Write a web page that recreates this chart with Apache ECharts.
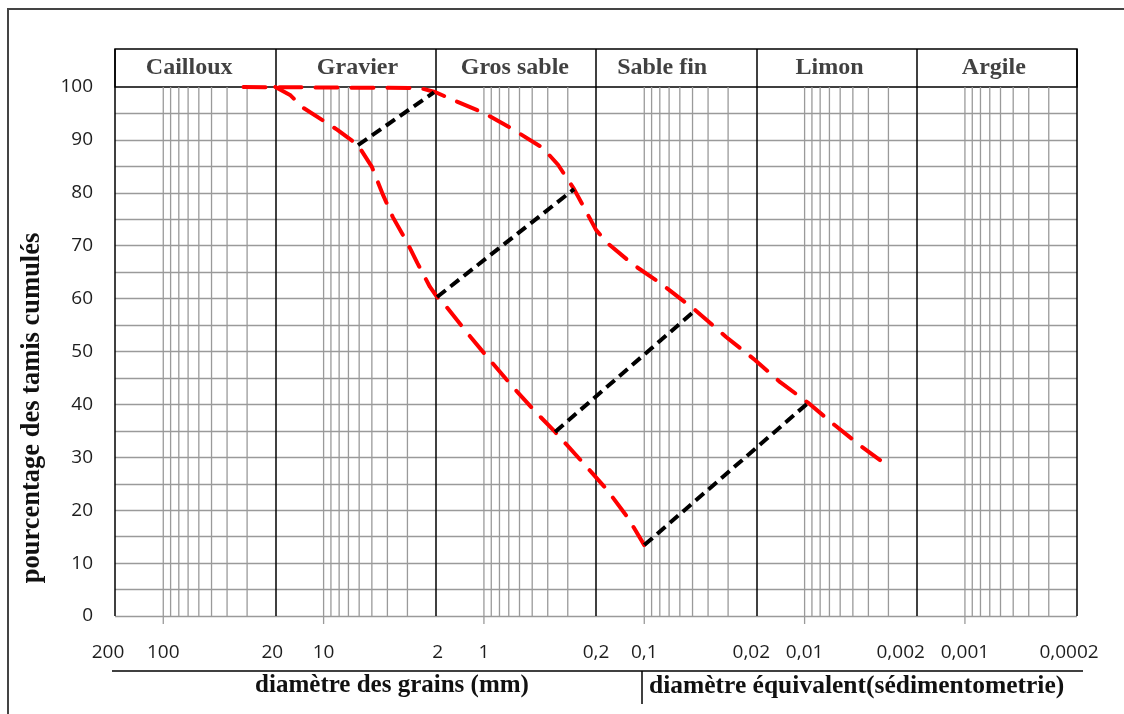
<!DOCTYPE html>
<html><head><meta charset="utf-8">
<script src="https://cdn.jsdelivr.net/npm/echarts@6/dist/echarts.min.js"></script>
<style>html,body{margin:0;padding:0;background:#fff}#c{width:1124px;height:714px}</style>
</head><body><div id="c"></div>
<script>
// ---------- data ----------
const zones = ['Cailloux', 'Gravier', 'Gros sable', 'Sable fin', 'Limon', 'Argile'];
const tickDiam = [200, 100, 20, 10, 2, 1, 0.2, 0.1, 0.02, 0.01, 0.002, 0.001, 0.0002];
const tickText = ['200', '100', '20', '10', '2', '1', '0,2', '0,1', '0,02', '0,01', '0,002', '0,001', '0,0002'];
const minorMultipliers = [1, 3, 4, 5, 6, 7, 8, 9];

const upperDiam = [31.6, 2.5, 2.0, 1.6, 1.0, 0.66, 0.43, 0.345, 0.274, 0.2, 0.17, 0.117, 0.08, 0.048, 0.031, 0.0204, 0.0142, 0.0095, 0.0065, 0.0044, 0.0029];
const upperPct  = [100, 99.8, 99, 97.7, 95.1, 92, 88.5, 85.3, 80.7, 73, 70.5, 66.4, 63, 57.8, 52.8, 48.4, 44.2, 40.3, 36.1, 32, 28];

const lowerDiam = [20, 16.2, 13.6, 8.2, 6.1, 5.0, 4.26, 3.7, 3.0, 2.6, 2.17, 1.96, 1.75, 1.27, 0.92, 0.66, 0.47, 0.36, 0.24, 0.17, 0.126, 0.1];
const lowerPct  = [100, 98.5, 96.2, 91.9, 89, 84.9, 79.6, 75.4, 70.5, 66.7, 62.2, 60.3, 58.8, 53.5, 48.4, 43.3, 38.4, 34.8, 28.9, 23.8, 18.5, 13.4];

const tieFromDiam = [6.1, 1.96, 0.36, 0.1];
const tieFromPct  = [89, 60.3, 34.8, 13.4];
const tieToDiam   = [2.05, 0.274, 0.048, 0.0095];
const tieToPct    = [99, 80.7, 57.8, 40.3];

const yTitle = 'pourcentage des tamis cumulés';
const xTitleLeft = 'diamètre des grains (mm)';
const xTitleRight = 'diamètre équivalent(sédimentometrie)';

// ---------- layout / style ----------
const DMAX = 200, DMIN = 0.0002;
const u = d => Math.log10(DMAX / d);
const labelShift = [-7, 0, -3, 0, 2, 0, 0, 0, -5, 0, -16, 0, -8];
const headerShift = [-6, 2, -1, -14, -7, -3];
const SANS = '"Open Sans", "Noto Sans", sans-serif';
const SERIF = '"Liberation Serif", "DejaVu Serif", serif';
const GRAY = '#9a9a9a';

const tickU = tickDiam.map(u);
const rich = {};
tickText.forEach((t, i) => {
  const s = labelShift[i];
  rich['s' + i] = {
    fontFamily: SANS, fontSize: 19, color: '#1e1e1e',
    padding: [0, s < 0 ? -2 * s : 0, 0, s > 0 ? 2 * s : 0]
  };
});
function xLabel(val) {
  let best = 0, bd = Infinity;
  tickU.forEach((t, i) => { const dd = Math.abs(t - val); if (dd < bd) { bd = dd; best = i; } });
  return '{s' + best + '|' + tickText[best] + '}';
}

// minor log grid lines: [u, hasTick]
const minorData = [];
for (let n = 2; n >= -4; n--) {
  minorMultipliers.forEach(m => {
    const d = m * Math.pow(10, n);
    if (d < DMAX * 0.999 && d > DMIN * 1.001) minorData.push([u(d), m === 1 ? 1 : 0]);
  });
}

const pairs = (ds, ps) => ds.map((d, i) => [u(d), ps[i]]);

const series = [
  {
    type: 'custom', xAxisIndex: 0, yAxisIndex: 0, silent: true, clip: false, z: 1,
    data: minorData,
    encode: { x: 0 },
    renderItem: function (params, api) {
      const x = api.value(0);
      const p0 = api.coord([x, 0]);
      const p1 = api.coord([x, 100]);
      const ext = api.value(1) ? 8 : 0;
      return {
        type: 'line',
        shape: { x1: p0[0], y1: p0[1] + ext, x2: p1[0], y2: p1[1] },
        style: { stroke: GRAY, lineWidth: 1.3 }
      };
    }
  },
  {
    type: 'line', name: 'upper', data: pairs(upperDiam, upperPct), symbol: 'none', z: 3,
    lineStyle: { color: '#ff0000', width: 4, type: [22, 14], cap: 'round' }, silent: true
  },
  {
    type: 'line', name: 'lower', data: pairs(lowerDiam, lowerPct), symbol: 'none', z: 3,
    lineStyle: { color: '#ff0000', width: 4, type: [22, 14], cap: 'round' }, silent: true
  }
];
tieFromDiam.forEach((d, i) => {
  series.push({
    type: 'line', data: [[u(d), tieFromPct[i]], [u(tieToDiam[i]), tieToPct[i]]], symbol: 'none', z: 4,
    lineStyle: { color: '#000', width: 4, type: [11, 6], cap: 'butt' }, silent: true
  });
});
series.push({
  type: 'scatter', xAxisIndex: 1, yAxisIndex: 1, symbolSize: 1, silent: true,
  itemStyle: { color: 'transparent' },
  label: {
    show: true, position: 'inside', formatter: p => p.name,
    fontFamily: SERIF, fontWeight: 'bold', fontSize: 24, color: '#111'
  },
  data: zones.map((z, i) => ({ name: z, value: [i + 0.5, 0.5], label: { offset: [headerShift[i], 0] } }))
});

const option = {
  animation: false,
  backgroundColor: '#fff',
  grid: [
    { left: 115, right: 47, top: 87, height: 529 },
    { left: 115, right: 47, top: 49, height: 38, show: true, borderColor: '#000', borderWidth: 1.5, backgroundColor: 'transparent' }
  ],
  xAxis: [
    {
      gridIndex: 0, type: 'value', min: 0, max: 6, interval: 1,
      axisLine: { show: false }, axisTick: { show: false },
      splitLine: { show: true, lineStyle: { color: '#000', width: 1.5 } },
      axisLabel: { show: true, customValues: tickU, formatter: xLabel, margin: 27, rich: rich }
    },
    {
      gridIndex: 1, type: 'value', min: 0, max: 6, interval: 1,
      axisLine: { show: false }, axisTick: { show: false }, axisLabel: { show: false },
      splitLine: { show: true, lineStyle: { color: '#000', width: 1.5 } }
    }
  ],
  yAxis: [
    {
      gridIndex: 0, type: 'value', min: 0, max: 100, interval: 5,
      axisLine: { show: false }, axisTick: { show: false },
      axisLabel: {
        formatter: v => (v % 10 === 0 ? String(v) : ''), margin: 22,
        fontFamily: SANS, fontSize: 19, color: '#1e1e1e'
      },
      splitLine: { show: true, showMaxLine: false, lineStyle: { color: GRAY, width: 1.3 } }
    },
    { gridIndex: 1, type: 'value', min: 0, max: 1, show: false }
  ],
  series: series,
  graphic: [
    { type: 'polyline', silent: true, shape: { points: [[8, 714], [8, 9], [1124, 9]] }, style: { stroke: '#444', lineWidth: 2, fill: null } },
    { type: 'line', silent: true, shape: { x1: 112, y1: 671, x2: 1083, y2: 671 }, style: { stroke: '#000', lineWidth: 1.5 } },
    { type: 'line', silent: true, shape: { x1: 642, y1: 671, x2: 642, y2: 704 }, style: { stroke: '#000', lineWidth: 1.5 } },
    { type: 'text', silent: true, x: 392, y: 686, style: { text: xTitleLeft, font: 'bold 25px ' + SERIF, fill: '#111', align: 'center', verticalAlign: 'middle' } },
    { type: 'text', silent: true, x: 649, y: 686, style: { text: xTitleRight, font: 'bold 25.5px ' + SERIF, fill: '#111', align: 'left', verticalAlign: 'middle' } },
    { type: 'text', silent: true, x: 32, y: 408, rotation: Math.PI / 2, style: { text: yTitle, font: 'bold 26.5px ' + SERIF, fill: '#111', align: 'center', verticalAlign: 'middle' } }
  ]
};

const chart = echarts.init(document.getElementById('c'), null, { renderer: 'canvas' });
chart.setOption(option);
</script>
</body></html>
